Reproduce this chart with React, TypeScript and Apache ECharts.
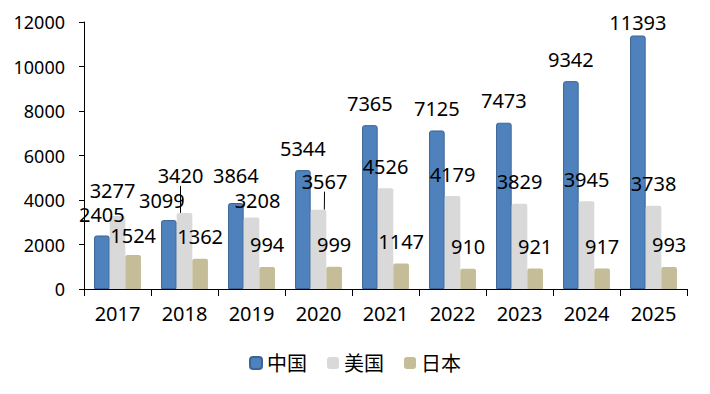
import React, { useEffect, useRef } from "react";
import * as echarts from "echarts";

const years = ["2017", "2018", "2019", "2020", "2021", "2022", "2023", "2024", "2025"];
const china = [2405, 3099, 3864, 5344, 7365, 7125, 7473, 9342, 11393];
const usa = [3277, 3420, 3208, 3567, 4526, 4179, 3829, 3945, 3738];
const japan = [1524, 1362, 994, 999, 1147, 910, 921, 917, 993];
const yTicks = { min: 0, max: 12000, interval: 2000 };

const FONT = "'Noto Sans', 'Noto Sans CJK SC', sans-serif";

export default function App() {
  const ref = useRef<HTMLDivElement>(null);
  useEffect(() => {
    if (!ref.current) return;
    const chart = echarts.init(ref.current, undefined, { renderer: "svg" });
    const label = {
      show: true,
      position: "top" as const,
      distance: 13,
      color: "#000",
      fontSize: 20,
      lineHeight: 18,
      fontFamily: FONT,
    };
    const usaData = usa.map((v, i) =>
      i === 1 || i === 3
        ? { value: v, labelLine: { show: true, lineStyle: { color: "#000", width: 1 } } }
        : { value: v }
    );
    chart.setOption({
      animation: false,
      backgroundColor: "#fff",
      textStyle: { fontFamily: FONT },
      grid: { left: 84, right: 23, top: 22, bottom: 105 },
      legend: {
        bottom: 16,
        left: "center",
        itemWidth: 12,
        itemHeight: 12,
        itemGap: 20,
        textStyle: { fontSize: 20, color: "#000", fontFamily: FONT },
        data: ["中国", "美国", "日本"],
      },
      xAxis: {
        type: "category",
        data: years,
        axisLine: { lineStyle: { color: "#000", width: 1 } },
        axisTick: { show: true, length: 7, lineStyle: { color: "#000" } },
        axisLabel: { color: "#000", fontSize: 20, margin: 14, fontFamily: FONT },
      },
      yAxis: {
        type: "value",
        min: yTicks.min,
        max: yTicks.max,
        interval: yTicks.interval,
        splitLine: { show: false },
        axisLine: { show: true, lineStyle: { color: "#000", width: 1 } },
        axisTick: { show: true, length: 5, lineStyle: { color: "#000" } },
        axisLabel: {
          color: "#000",
          fontSize: 18,
          margin: 19,
          fontFamily: FONT,
          formatter: (v: number) => String(v),
        },
      },
      series: [
        {
          name: "中国",
          type: "bar",
          data: china,
          barGap: "0%",
          barCategoryGap: "30%",
          itemStyle: { color: "#4F81BD", borderColor: "#3B6596", borderWidth: 1, borderRadius: [2, 2, 0, 0] },
          label,
          labelLayout: (p: any) => {
            if (p.dataIndex === 0) return { dy: 1 };
            if (p.dataIndex === 1) return { dx: -7, dy: 2 };
            if (p.dataIndex === 2) return { dy: -6 };
            if (p.dataIndex === 8) return { dy: 9 };
            return {};
          },
        },
        {
          name: "美国",
          type: "bar",
          data: usaData,
          itemStyle: { color: "#D9D9D9", borderRadius: [2, 2, 0, 0] },
          label,
          labelLayout: (p: any) => {
            if (p.dataIndex === 0) return { dx: -5, dy: -4 };
            if (p.dataIndex === 1) return { dx: -4, dy: -15 };
            if (p.dataIndex === 2) return { dx: 6, dy: 5 };
            if (p.dataIndex === 3) return { dx: 6, dy: -6 };
            return {};
          },
        },
        {
          name: "日本",
          type: "bar",
          data: japan,
          itemStyle: { color: "#C4BD97", borderRadius: [2, 2, 0, 0] },
          label,
          labelLayout: (p: any) => (p.dataIndex === 0 ? { dy: 2 } : {}),
        },
      ],
    });
    return () => chart.dispose();
  }, []);
  return (
    <div
      ref={ref}
      style={{ position: "fixed", left: 0, top: 0, width: 710, height: 394, background: "#fff" }}
    />
  );
}
